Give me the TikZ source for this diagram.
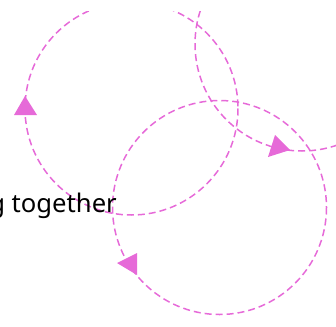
\documentclass[tikz,border=0pt]{standalone}
\usepackage{fontspec}
\setmainfont{Noto Sans}
\definecolor{loopc}{RGB}{230,106,216}
\tikzset{
  cyc/.style={draw=loopc, line width=1.5pt, dash pattern=on 7pt off 4pt},
  tipfill/.style={fill=loopc, draw=none},
  lbl/.style={inner sep=0pt, anchor=base east, font=\fontsize{24.88}{30}\selectfont, scale=1.03}
}
\begin{document}
\begin{tikzpicture}[x=1pt,y=-1pt]
\useasboundingbox (0,0) rectangle (336,326);
\clip (0,0) rectangle (336,326);
\begin{scope}
\clip (0,11.5) rectangle (336,326);
\draw[cyc] (131.5,108.5) circle (106.5);
\draw[cyc] (219.5,207.5) circle (107);
\draw[cyc] (302,44) circle (107);
\end{scope}
\fill[tipfill] (25,96) -- (37,115) -- (14,115) -- cycle;
\fill[tipfill] (290,150) -- (268,157) -- (275,135) -- cycle;
\fill[tipfill] (117,263) -- (137,253) -- (137,275) -- cycle;
\node[lbl] (t) at (117,212) {g together};
\end{tikzpicture}
\end{document}
